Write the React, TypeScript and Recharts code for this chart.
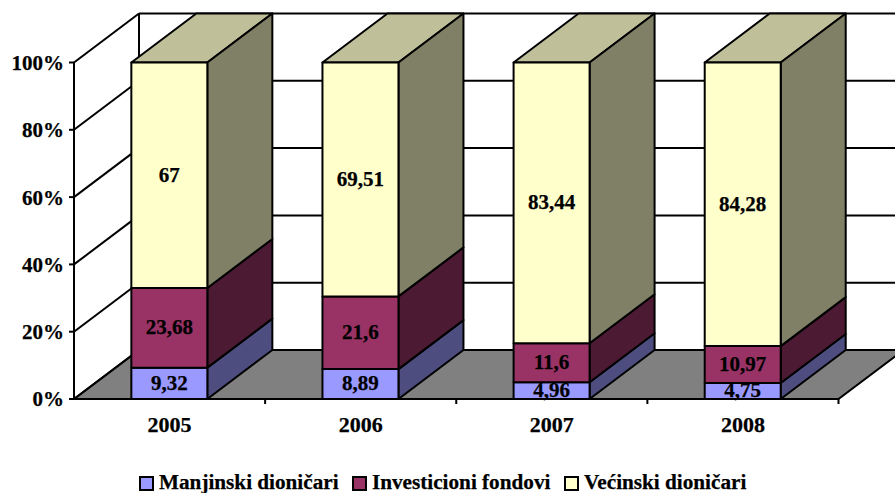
import React from 'react';
import { BarChart, Bar, XAxis, YAxis, LabelList, Legend, usePlotArea } from 'recharts';

const YEARS = ['2005', '2006', '2007', '2008'];
const MANJINSKI = [9.32, 8.89, 4.96, 4.75];
const INVESTICIONI = [23.68, 21.6, 11.6, 10.97];
const VECINSKI = [67, 69.51, 83.44, 84.28];
const PERCENT_TICKS = [0, 20, 40, 60, 80, 100];

const data = YEARS.map((year, i) => ({
  year,
  manjinski: MANJINSKI[i],
  investicioni: INVESTICIONI[i],
  vecinski: VECINSKI[i],
}));

const DEPTH_X = 65;
const DEPTH_Y = 49;
const LINE = 2;
const FONT = '"Liberation Serif", "Times New Roman", serif';
const textStyle = { fontFamily: FONT, fontWeight: 700, fontSize: 21, fill: '#000', stroke: '#000', strokeWidth: 0.25 };

const LEGEND_ITEMS = [
  { label: 'Manjinski dioničari', color: '#9999ff', left: 139 },
  { label: 'Investicioni fondovi', color: '#993366', left: 352 },
  { label: 'Većinski dioničari', color: '#ffffcc', left: 564 },
];

// walls and floor of the fake 3D box, has to sit under the bars
const Backdrop = () => {
  const plot = usePlotArea();
  if (!plot) return null;
  const { x, y, width, height } = plot;
  const bottom = y + height;
  const right = x + width;
  const step = width / YEARS.length;
  return (
    <g stroke="#000" strokeWidth={LINE}>
      <polygon
        points={`${x},${bottom} ${x + DEPTH_X},${bottom - DEPTH_Y} ${right + DEPTH_X},${bottom - DEPTH_Y} ${right},${bottom}`}
        fill="#808080"
      />
      {PERCENT_TICKS.map((t) => {
        const ty = bottom - (t / 100) * height;
        return (
          <g key={t}>
            <line x1={x} y1={ty} x2={x + DEPTH_X} y2={ty - DEPTH_Y} />
            <line x1={x + DEPTH_X} y1={ty - DEPTH_Y} x2={right + DEPTH_X} y2={ty - DEPTH_Y} />
          </g>
        );
      })}
      <line x1={x + DEPTH_X} y1={y - DEPTH_Y} x2={x + DEPTH_X} y2={bottom - DEPTH_Y} />
      {YEARS.map((_, i) => (
        <line key={i} x1={x + step * (i + 1)} y1={bottom} x2={x + step * (i + 1)} y2={bottom + 5} />
      ))}
    </g>
  );
};

const makeShape = (sideColor: string, topColor?: string) => (props: any) => {
  const { x, y, width, height, fill } = props;
  const r = x + width;
  const b = y + height;
  return (
    <g stroke="#000" strokeWidth={LINE} strokeLinejoin="round">
      {topColor && (
        <polygon
          points={`${x},${y} ${x + DEPTH_X},${y - DEPTH_Y} ${r + DEPTH_X},${y - DEPTH_Y} ${r},${y}`}
          fill={topColor}
        />
      )}
      <polygon
        points={`${r},${y} ${r + DEPTH_X},${y - DEPTH_Y} ${r + DEPTH_X},${b - DEPTH_Y} ${r},${b}`}
        fill={sideColor}
      />
      <rect x={x} y={y} width={width} height={height} fill={fill} />
    </g>
  );
};

const comma = (v: any) => String(v).replace('.', ',');

const LegendRow = () => (
  <div style={{ position: 'relative', width: 895, height: 22 }}>
    {LEGEND_ITEMS.map((item) => (
      <div
        key={item.label}
        style={{
          position: 'absolute',
          left: item.left,
          top: 0,
          display: 'flex',
          alignItems: 'center',
          whiteSpace: 'nowrap',
          fontFamily: FONT,
          fontWeight: 700,
          fontSize: 21.2,
          lineHeight: '22px',
          color: '#000',
          WebkitTextStroke: '0.25px #000',
        }}
      >
        <span
          style={{
            display: 'inline-block',
            position: 'relative',
            top: 1,
            width: 11,
            height: 11,
            marginRight: 5,
            background: item.color,
            border: '2px solid #000',
          }}
        />
        {item.label}
      </div>
    ))}
  </div>
);

export default function App() {
  return (
    <div style={{ position: 'absolute', left: 0, top: 0, width: 895, height: 493, background: '#fff', overflow: 'hidden' }}>
      <BarChart
        width={895}
        height={493}
        data={data}
        stackOffset="none"
        barCategoryGap="30%"
        margin={{ top: 62.5, right: 56.5, bottom: 0, left: 0 }}
      >
        <Backdrop />
        <XAxis
          dataKey="year"
          height={72}
          tickLine={false}
          tickMargin={11}
          axisLine={{ stroke: '#000', strokeWidth: LINE }}
          tick={{ ...textStyle, fontSize: 22 }}
        />
        <YAxis
          width={74}
          domain={[0, 100]}
          ticks={PERCENT_TICKS}
          tickFormatter={(v) => `${v}%`}
          tickSize={5}
          tickMargin={5}
          tickLine={{ stroke: '#000', strokeWidth: LINE }}
          axisLine={{ stroke: '#000', strokeWidth: LINE }}
          tick={textStyle}
        />
        <Legend verticalAlign="bottom" content={<LegendRow />} wrapperStyle={{ left: 0, bottom: 0, width: 895 }} />
        <Bar dataKey="manjinski" name="Manjinski dioničari" stackId="a" fill="#9999ff" isAnimationActive={false} shape={makeShape('#4d4d80')}>
          <LabelList dataKey="manjinski" position="center" formatter={comma} style={textStyle} dy={-1} />
        </Bar>
        <Bar dataKey="investicioni" name="Investicioni fondovi" stackId="a" fill="#993366" isAnimationActive={false} shape={makeShape('#4d1a33')}>
          <LabelList dataKey="investicioni" position="center" formatter={comma} style={textStyle} dy={-1} />
        </Bar>
        <Bar dataKey="vecinski" name="Većinski dioničari" stackId="a" fill="#ffffcc" isAnimationActive={false} shape={makeShape('#808066', '#bfbf99')}>
          <LabelList dataKey="vecinski" position="center" formatter={comma} style={textStyle} dy={-1} />
        </Bar>
      </BarChart>
    </div>
  );
}
